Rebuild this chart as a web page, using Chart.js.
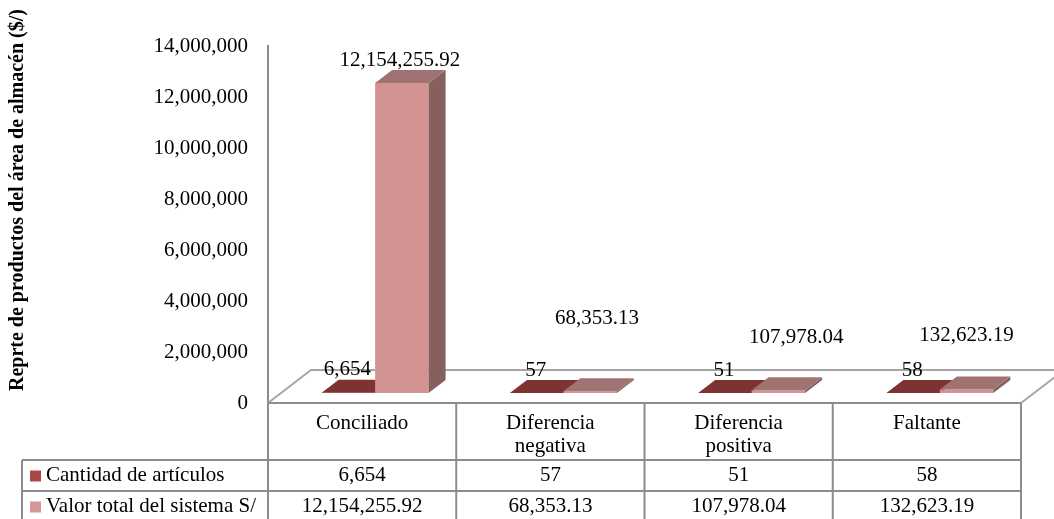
<!DOCTYPE html>
<html>
<head>
<meta charset="utf-8">
<script src="https://cdn.jsdelivr.net/npm/chart.js@4.4.0/dist/chart.umd.min.js"></script>
<style>
    html, body { margin: 0; padding: 0; background: #fff; }
    #wrap { width: 1054px; height: 519px; position: relative; }
</style>
</head>
<body>
<div id="wrap"><canvas id="chart"></canvas></div>
<script>
// Data
const categories = [['Conciliado'], ['Diferencia', 'negativa'], ['Diferencia', 'positiva'], ['Faltante']];
const seriesNames = ['Cantidad de artículos', 'Valor total del sistema S/'];
const cantidad = [6654, 57, 51, 58];
const valorTotal = [12154255.92, 68353.13, 107978.04, 132623.19];
const yMax = 14000000;
const yStep = 2000000;
const axisTitle = 'Reprte de productos del área de almacén ($/)';

// Styles
const FONT = '"Liberation Serif", "Times New Roman", serif';
const GRID = '#8c8c8c';
const SHIFT = { dx: 13, dy: -10 };   // bars sit in the middle of the floor
const DEPTH = { dx: 17, dy: -13 };   // bar depth
const FLOOR = { dx: 43, dy: -33 };   // floor depth
const colors = [
    { front: '#a84444', top: '#7f3232', side: '#5e2626', legend: '#a94848' },
    { front: '#d39393', top: '#a07272', side: '#865f5f', legend: '#d49898' }
];
// label offsets from bar top (Excel puts them oddly on the flat bars)
const labelOffsets = [
    [[-1, -23], [-1, -23], [-1, -23], [-1, -23]],
    [[-2, -23], [7, -73], [18, -53], [0, -54]]
];

const fmtCount = v => v.toLocaleString('en-US');
const fmtMoney = v => v.toLocaleString('en-US', { minimumFractionDigits: 2, maximumFractionDigits: 2 });
const formatters = [fmtCount, fmtMoney];

function poly(ctx, pts) {
    ctx.beginPath();
    ctx.moveTo(pts[0][0], pts[0][1]);
    pts.slice(1).forEach(p => ctx.lineTo(p[0], p[1]));
    ctx.closePath();
    ctx.fill();
}

function drawFaces(ctx, bar, col) {
    const { x, y, base, width } = bar;
    const l = x - width / 2, r = x + width / 2;
    ctx.fillStyle = col.side;
    poly(ctx, [[r, y], [r + DEPTH.dx, y + DEPTH.dy], [r + DEPTH.dx, base + DEPTH.dy], [r, base]]);
    ctx.fillStyle = col.top;
    poly(ctx, [[l, y], [r, y], [r + DEPTH.dx, y + DEPTH.dy], [l + DEPTH.dx, y + DEPTH.dy]]);
}

function line(ctx, x1, y1, x2, y2) {
    ctx.beginPath();
    ctx.moveTo(x1, y1);
    ctx.lineTo(x2, y2);
    ctx.stroke();
}

const bars3d = {
    id: 'bars3d',
    beforeDatasetsDraw(chart) {
        const ctx = chart.ctx;
        const area = chart.chartArea;

        // floor outline
        ctx.save();
        ctx.strokeStyle = '#a6a6a6';
        ctx.lineWidth = 2;
        ctx.beginPath();
        ctx.moveTo(area.left, area.bottom);
        ctx.lineTo(area.left + FLOOR.dx, area.bottom + FLOOR.dy);
        ctx.lineTo(area.right + FLOOR.dx, area.bottom + FLOOR.dy);
        ctx.lineTo(area.right, area.bottom);
        ctx.stroke();
        ctx.restore();

        // bars, category by category so the right bar covers the left one
        const metas = [chart.getDatasetMeta(0), chart.getDatasetMeta(1)];
        ctx.save();
        ctx.translate(SHIFT.dx, SHIFT.dy);
        categories.forEach((_, i) => {
            metas.forEach((meta, d) => {
                const bar = meta.data[i];
                bar.draw(ctx);
                drawFaces(ctx, bar, colors[d]);
            });
        });
        ctx.restore();

        // data labels
        ctx.save();
        ctx.fillStyle = '#000';
        ctx.font = `21px ${FONT}`;
        ctx.textAlign = 'center';
        ctx.textBaseline = 'middle';
        metas.forEach((meta, d) => {
            meta.data.forEach((bar, i) => {
                const v = chart.data.datasets[d].data[i];
                const [ox, oy] = labelOffsets[d][i];
                ctx.fillText(formatters[d](v), bar.x + SHIFT.dx + ox, bar.y + SHIFT.dy + oy);
            });
        });
        ctx.restore();
        return false;
    },
    afterDraw(chart) {
        const ctx = chart.ctx;
        const area = chart.chartArea;
        const xs = chart.scales.x;
        const colW = (xs.right - xs.left) / categories.length;
        const edges = categories.map((_, i) => xs.getPixelForValue(i) - colW / 2);
        edges.push(xs.right);

        const headTop = area.bottom;
        const headBottom = headTop + 57;
        const row1Bottom = headBottom + 31;
        const row2Bottom = row1Bottom + 31;
        const legendLeft = 22;

        // table grid
        ctx.save();
        ctx.strokeStyle = GRID;
        ctx.lineWidth = 2;
        line(ctx, edges[0], headTop, xs.right, headTop);
        line(ctx, legendLeft, headBottom, xs.right, headBottom);
        line(ctx, legendLeft, row1Bottom, xs.right, row1Bottom);
        line(ctx, legendLeft, row2Bottom, xs.right, row2Bottom);
        edges.forEach(x => line(ctx, x, headTop, x, row2Bottom));
        line(ctx, legendLeft, headBottom, legendLeft, row2Bottom);

        // header text
        ctx.fillStyle = '#000';
        ctx.font = `21px ${FONT}`;
        ctx.textAlign = 'center';
        ctx.textBaseline = 'middle';
        categories.forEach((lines, i) => {
            const cx = xs.getPixelForValue(i);
            lines.forEach((t, k) => ctx.fillText(t, cx, headTop + 20 + k * 23));
        });

        // value rows + legend keys
        const rows = [[headBottom, row1Bottom], [row1Bottom, row2Bottom]];
        chart.data.datasets.forEach((ds, d) => {
            const cy = (rows[d][0] + rows[d][1]) / 2;
            ctx.textAlign = 'center';
            ds.data.forEach((v, i) => ctx.fillText(formatters[d](v), xs.getPixelForValue(i), cy));
            ctx.fillStyle = colors[d].legend;
            ctx.fillRect(legendLeft + 8, cy - 5, 11, 11);
            ctx.fillStyle = '#000';
            ctx.textAlign = 'left';
            ctx.fillText(seriesNames[d], legendLeft + 24, cy);
        });

        // vertical axis title
        ctx.translate(18, 200);
        ctx.rotate(-Math.PI / 2);
        ctx.textAlign = 'center';
        ctx.font = `bold 20px ${FONT}`;
        ctx.fillText(axisTitle, 0, 0);
        ctx.restore();
    }
};

new Chart(document.getElementById('chart'), {
    type: 'bar',
    data: {
        labels: categories.map(c => c.join(' ')),
        datasets: [
            { label: seriesNames[0], data: cantidad, backgroundColor: colors[0].front },
            { label: seriesNames[1], data: valorTotal, backgroundColor: colors[1].front }
        ]
    },
    options: {
        responsive: true,
        maintainAspectRatio: false,
        animation: false,
        categoryPercentage: 0.568,
        barPercentage: 1,
        layout: { padding: { left: 0, right: 33, top: 46, bottom: 116 } },
        plugins: {
            legend: { display: false },
            tooltip: { enabled: false }
        },
        scales: {
            x: { display: false, offset: true },
            y: {
                min: 0,
                max: yMax,
                ticks: {
                    stepSize: yStep,
                    color: '#000',
                    padding: 20,
                    font: { family: FONT, size: 21 },
                    callback: v => v.toLocaleString('en-US')
                },
                grid: { display: false, drawTicks: false },
                border: { display: true, color: GRID, width: 2 },
                afterFit: s => { s.width = 268; }
            }
        }
    },
    plugins: [bars3d]
});
</script>
</body>
</html>
